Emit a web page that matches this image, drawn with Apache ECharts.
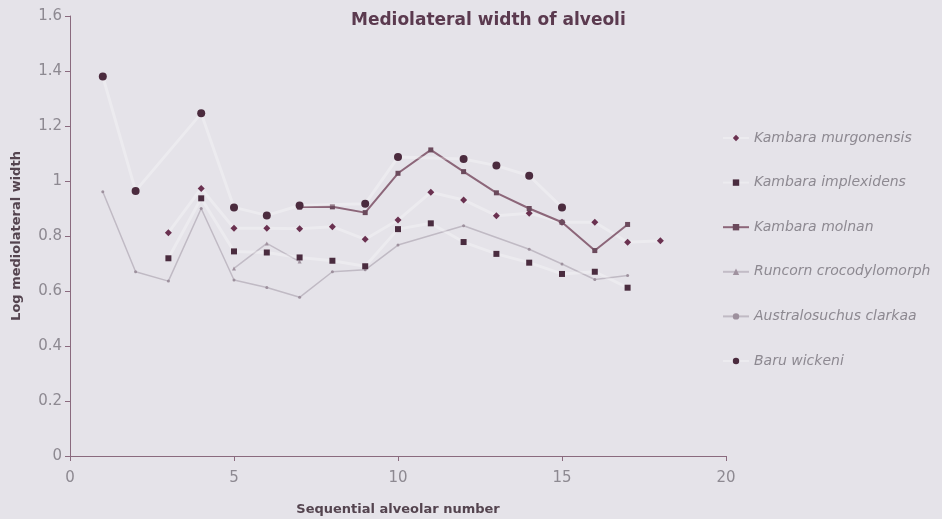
<!DOCTYPE html>
<html>
<head>
<meta charset="utf-8">
<script src="https://cdn.jsdelivr.net/npm/echarts@6/dist/echarts.min.js"></script>
<style>
html,body{margin:0;padding:0;background:#e5e3e9;}
#chart{width:942px;height:519px;}
</style>
</head>
<body>
<div id="chart"></div>
<script>
// ---- data ----
const murgonensisX = [3, 4, 5, 6, 7, 8, 9, 10, 11, 12, 13, 14, 15, 16, 17, 18];
const murgonensisY = [0.812, 0.973, 0.828, 0.828, 0.826, 0.834, 0.788, 0.858, 0.959, 0.931, 0.874, 0.883, 0.85, 0.85, 0.777, 0.783];

const implexidensX = [3, 4, 5, 6, 7, 8, 9, 10, 11, 12, 13, 14, 15, 16, 17];
const implexidensY = [0.719, 0.937, 0.744, 0.74, 0.722, 0.71, 0.69, 0.825, 0.846, 0.778, 0.735, 0.703, 0.662, 0.67, 0.612];

const molnanX = [7, 8, 9, 10, 11, 12, 13, 14, 15, 16, 17];
const molnanY = [0.905, 0.906, 0.885, 1.028, 1.113, 1.034, 0.957, 0.9, 0.85, 0.747, 0.842];

const runcornX = [5, 6, 7];
const runcornY = [0.682, 0.773, 0.707];

const australosuchusX = [1, 2, 3, 4, 5, 6, 7, 8, 9, 10, 12, 14, 15, 16, 17];
const australosuchusY = [0.961, 0.67, 0.636, 0.9, 0.64, 0.613, 0.577, 0.67, 0.677, 0.767, 0.837, 0.752, 0.698, 0.642, 0.656];

const baruX = [1, 2, 4, 5, 6, 7, 9, 10, 12, 13, 14, 15];
const baruY = [1.38, 0.964, 1.246, 0.904, 0.875, 0.911, 0.917, 1.087, 1.08, 1.056, 1.019, 0.904];

const seriesNames = ['Kambara murgonensis', 'Kambara implexidens', 'Kambara molnan',
  'Runcorn crocodylomorph', 'Australosuchus clarkaa', 'Baru wickeni'];

const titleText = 'Mediolateral width of alveoli';
const xAxisName = 'Sequential alveolar number';
const yAxisName = 'Log mediolateral width';

function pairs(xs, ys) { return xs.map((x, i) => [x, ys[i]]); }

const FONT = 'DejaVu Sans, Liberation Sans, Arial, sans-serif';
const faintWhite = 'rgba(255,255,255,0.28)';
const labelGray = '#8d8991';
const axisColor = '#8a6a7e';

const chart = echarts.init(document.getElementById('chart'), null, { renderer: 'canvas' });
chart.setOption({
  backgroundColor: '#e5e3e9',
  animation: false,
  textStyle: { fontFamily: FONT },
  title: {
    text: titleText,
    left: 346,
    top: 7,
    textStyle: { fontSize: 17, fontWeight: 'bold', color: '#5b3a4f', fontFamily: FONT }
  },
  legend: {
    orient: 'vertical',
    left: 722,
    top: 130,
    padding: 0,
    itemGap: 28.6,
    itemWidth: 26,
    itemHeight: 8,
    data: seriesNames,
    textStyle: { fontSize: 14, fontStyle: 'italic', color: labelGray, lineHeight: 16, fontFamily: FONT }
  },
  grid: { left: 70, top: 16, width: 656, height: 440, containLabel: false, outerBoundsMode: 'none' },
  xAxis: {
    type: 'value', min: 0, max: 20, interval: 5,
    name: xAxisName, nameLocation: 'middle', nameGap: 47,
    nameTextStyle: { fontSize: 13, fontWeight: 'bold', color: '#54444f', fontFamily: FONT },
    axisLine: { show: true, lineStyle: { color: axisColor, width: 1 } },
    axisTick: { show: true, length: 5, inside: false, lineStyle: { color: axisColor } },
    axisLabel: { fontSize: 15, color: labelGray, margin: 15, fontFamily: FONT },
    splitLine: { show: false }
  },
  yAxis: {
    type: 'value', min: 0, max: 1.6, interval: 0.2,
    name: yAxisName, nameLocation: 'middle', nameGap: 47, nameRotate: 90,
    nameTextStyle: { fontSize: 13, fontWeight: 'bold', color: '#54444f', fontFamily: FONT },
    axisLine: { show: true, lineStyle: { color: axisColor, width: 1 } },
    axisTick: { show: true, length: 5, lineStyle: { color: axisColor } },
    axisLabel: { fontSize: 15, color: labelGray, margin: 8, fontFamily: FONT,
      formatter: v => (Math.round(v * 10) / 10).toString() },
    splitLine: { show: false }
  },
  series: [
    {
      name: seriesNames[0], type: 'line', data: pairs(murgonensisX, murgonensisY),
      symbol: 'diamond', symbolSize: 7,
      itemStyle: { color: '#6a3150' },
      lineStyle: { color: faintWhite, width: 3 }, z: 3
    },
    {
      name: seriesNames[1], type: 'line', data: pairs(implexidensX, implexidensY),
      symbol: 'rect', symbolSize: 6,
      itemStyle: { color: '#4a2c3f' },
      lineStyle: { color: faintWhite, width: 3 }, z: 3
    },
    {
      name: seriesNames[2], type: 'line', data: pairs(molnanX, molnanY),
      symbol: 'rect', symbolSize: 5,
      itemStyle: { color: '#6b4a5c' },
      lineStyle: { color: '#8c6679', width: 2 }, z: 4
    },
    {
      name: seriesNames[3], type: 'line', data: pairs(runcornX, runcornY),
      symbol: 'triangle', symbolSize: 4,
      itemStyle: { color: '#a0929f' },
      lineStyle: { color: '#c2bcc6', width: 1.5 }, z: 2
    },
    {
      name: seriesNames[4], type: 'line', data: pairs(australosuchusX, australosuchusY),
      symbol: 'circle', symbolSize: 3,
      itemStyle: { color: '#9d909d' },
      lineStyle: { color: '#c0bac4', width: 1.5 }, z: 2
    },
    {
      name: seriesNames[5], type: 'line', data: pairs(baruX, baruY),
      symbol: 'circle', symbolSize: 8,
      itemStyle: { color: '#4b2b3e' },
      lineStyle: { color: faintWhite, width: 3 }, z: 5
    }
  ]
});
</script>
</body>
</html>
